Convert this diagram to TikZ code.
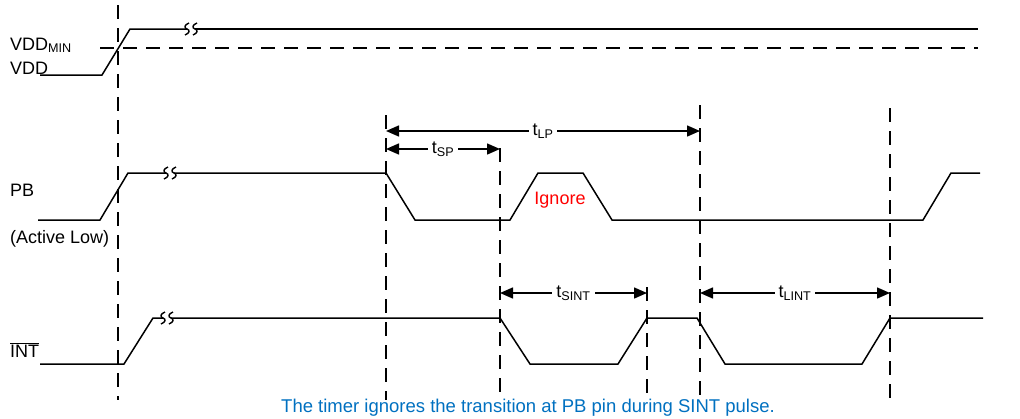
\documentclass[tikz,border=0pt]{standalone}
\usepackage{fontspec}
\setmainfont{Liberation Sans}
\usetikzlibrary{arrows.meta}
\definecolor{tiblue}{RGB}{0,112,192}
\definecolor{tired}{RGB}{255,0,0}
\begin{document}
\begin{tikzpicture}[x=1pt,y=-1pt,
  wave/.style={line width=1.5pt, line join=miter},
  guide/.style={line width=1.5pt, dash pattern=on 14pt off 9pt},
  dim/.style={line width=1.5pt, {Triangle[length=13pt,width=11pt]}-{Triangle[length=13pt,width=11pt]}},
  lbl/.style={font=\fontsize{18}{21}\selectfont, inner sep=0pt},
  dimlbl/.style={lbl, fill=white, inner xsep=4pt, inner ysep=1pt},
  brkmark/.pic={\draw[line width=1.4pt] (2,-6) .. controls (-3,-4) and (-3,-1) .. (0,0) .. controls (3,1) and (3,4) .. (-2,6);}
]
\useasboundingbox (0,0) rectangle (1020,418);

% signal labels
\node[lbl, anchor=base west] (lvddmin) at (10,50) {VDD\textsubscript{MIN}};
\node[lbl, anchor=base west] (lvdd) at (10,74) {VDD};
\node[lbl, anchor=base west] (lpb) at (10,196) {PB};
\node[lbl, anchor=base west] (lact) at (10,243) {(Active Low)};
\node[lbl, anchor=base west] (lint) at (10,357) {$\overline{\mbox{INT}}$};

% VDD min threshold
\draw[guide] (100,48) -- (978,48);

% vertical guides
\draw[guide] (118,5) -- (118,400);
\draw[guide] (386,115) -- (386,400);
\draw[guide] (500,148) -- (500,400);
\draw[guide] (700,105) -- (700,400);
\draw[guide] (647,287) -- (647,400);
\draw[guide] (890,108) -- (890,400);

% VDD
\draw[wave] (40,75) -- (102,75) -- (130,29) -- (187,29);
\draw[wave] (195,29) -- (978,29);
\pic at (187,29) {brkmark};
\pic at (195,29) {brkmark};

% PB
\draw[wave] (38,220) -- (100,220) -- (128,173) -- (166,173);
\draw[wave] (174,173) -- (386,173) -- (415,220) -- (510,220) -- (538,173) -- (583,173) -- (612,220) -- (923,220) -- (951,173) -- (980,173);
\pic at (166,173) {brkmark};
\pic at (174,173) {brkmark};

% INT
\draw[wave] (40,364) -- (124,364) -- (153,318) -- (163,318);
\draw[wave] (171,318) -- (500,318) -- (530,364) -- (618,364) -- (647,318) -- (697,318) -- (725,364) -- (862,364) -- (890,318) -- (983,318);
\pic at (163,318) {brkmark};
\pic at (171,318) {brkmark};

% timing dimensions
\coordinate (lpA) at (386,131); \coordinate (lpB) at (700,131);
\coordinate (spA) at (386,149); \coordinate (spB) at (500,149);
\coordinate (siA) at (500,293); \coordinate (siB) at (647,293);
\coordinate (liA) at (700,293); \coordinate (liB) at (890,293);
\draw[dim] (lpA) -- (lpB) node[dimlbl, midway] (tlp) {t\textsubscript{LP}};
\draw[dim] (spA) -- (spB) node[dimlbl, midway] (tsp) {t\textsubscript{SP}};
\draw[dim] (siA) -- (siB) node[dimlbl, midway] (tsint) {t\textsubscript{SINT}};
\draw[dim] (liA) -- (liB) node[dimlbl, midway] (tlint) {t\textsubscript{LINT}};

% notes
\node[lbl, text=tired] (ign) at (560,200) {Ignore};
\node[lbl, text=tiblue, anchor=base, font=\fontsize{18.5}{21}\selectfont] (note) at (528,412) {The timer ignores the transition at PB pin during SINT pulse.};
\end{tikzpicture}
\end{document}
